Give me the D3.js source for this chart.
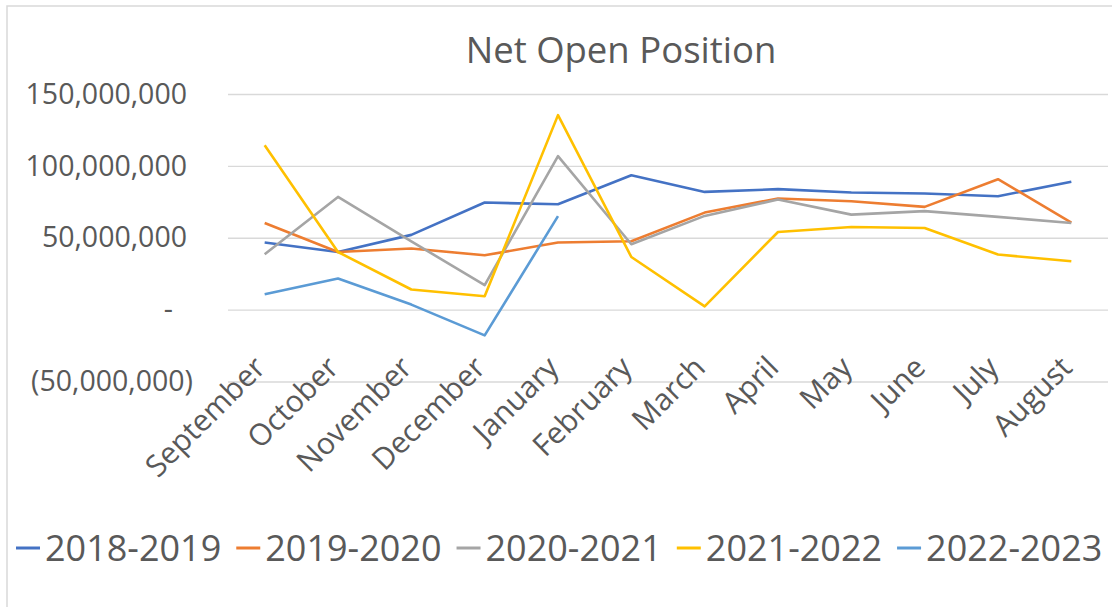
<!doctype html>
<html lang="en">
<head>
  <meta charset="UTF-8">
  <title>Net Open Position</title>
<style>
  body{ margin: 0; background: #fff; }
  text{ font-family: "Open Sans", sans-serif; fill: #595959; }
  .grid line{ stroke: #d9d9d9; stroke-width: 1.3px; }
  .grid path{ display: none; }
  .series{ fill: none; stroke-width: 2.6px; stroke-linejoin: round; }
</style>
</head>
<body>
<script src="https://cdn.jsdelivr.net/npm/d3@7"></script>
<script>
var months = ["September", "October", "November", "December", "January", "February",
              "March", "April", "May", "June", "July", "August"];

var seasons = ["2018-2019", "2019-2020", "2020-2021", "2021-2022", "2022-2023"];
var colors = ["#4472C4", "#ED7D31", "#A5A5A5", "#FFC000", "#5B9BD5"];

var s2018 = [46.7e6, 40.1e6, 52.0e6, 74.5e6, 73.3e6, 93.5e6, 81.9e6, 83.8e6, 81.5e6, 80.8e6, 78.9e6, 88.9e6];
var s2019 = [60.3e6, 40.1e6, 42.5e6, 37.8e6, 46.7e6, 47.6e6, 67.5e6, 77.3e6, 75.4e6, 71.5e6, 90.7e6, 60.6e6];
var s2020 = [38.5e6, 78.4e6, 47.5e6, 17.0e6, 106.8e6, 45.5e6, 65.2e6, 76.6e6, 66.1e6, 68.5e6, 64.5e6, 60.3e6];
var s2021 = [114.4e6, 40.1e6, 14.0e6, 9.3e6, 135.3e6, 36.6e6, 2.3e6, 54.0e6, 57.5e6, 56.8e6, 38.3e6, 33.6e6];
var s2022 = [10.7e6, 21.6e6, 3.5e6, -17.9e6, 65.0e6];

var yTicks = [-50e6, 0, 50e6, 100e6, 150e6];

var series = [s2018, s2019, s2020, s2021, s2022];

var W = 1112, H = 607;
var plot = {left: 228, right: 1108, top: 94, bottom: 381.5};

var svg = d3.select("body").append("svg")
    .attr("width", W)
    .attr("height", H);

// chart frame (only top/left edge visible in the crop)
svg.append("rect")
    .attr("x", 7).attr("y", 6)
    .attr("width", 1300).attr("height", 700)
    .attr("fill", "#fff")
    .attr("stroke", "#d9d9d9")
    .attr("stroke-width", 1.5);

var x = d3.scalePoint()
    .domain(months)
    .range([plot.left, plot.right])
    .padding(0.5);

var y = d3.scaleLinear()
    .domain([-50e6, 150e6])
    .range([plot.bottom, plot.top]);

var fmt = d3.format(",");

// gridlines + y labels
var yAxis = d3.axisLeft(y)
    .tickValues(yTicks)
    .tickSizeInner(-(plot.right - plot.left))
    .tickSizeOuter(0)
    .tickFormat(function(d){
      if (d === 0) return "-";
      if (d < 0) return "(" + fmt(-d) + ")";
      return fmt(d);
    });

var gy = svg.append("g")
    .attr("class", "grid")
    .attr("transform", "translate(" + plot.left + ",0)")
    .call(yAxis);

gy.selectAll("text")
    .attr("font-size", 28.5)
    .attr("font-family", "'Open Sans', sans-serif")
    .attr("fill", "#595959")
    .attr("x", function(d){ return d === 0 ? -55 : (d < 0 ? -35 : -41); });

// month labels
svg.append("g")
  .selectAll("text")
  .data(months)
  .enter().append("text")
    .attr("text-anchor", "end")
    .attr("font-size", 30)
    .attr("dy", "0.35em")
    .attr("transform", function(d){
      return "translate(" + (x(d) - 5) + ",362) rotate(-45)";
    })
    .text(function(d){ return d; });

// lines
var line = d3.line()
    .x(function(d, i){ return x(months[i]); })
    .y(function(d){ return y(d); });

svg.selectAll(".series")
    .data(series)
  .enter().append("path")
    .attr("class", "series")
    .attr("stroke", function(d, i){ return colors[i]; })
    .attr("d", line);

// title
svg.append("text")
    .attr("x", 621)
    .attr("y", 63)
    .attr("text-anchor", "middle")
    .attr("font-size", 36.5)
    .text("Net Open Position");

// legend
var lx = 16;
seasons.forEach(function(s, i){
  svg.append("line")
      .attr("x1", lx).attr("x2", lx + 24)
      .attr("y1", 548).attr("y2", 548)
      .attr("stroke", colors[i])
      .attr("stroke-width", 3);
  var t = svg.append("text")
      .attr("x", lx + 29)
      .attr("y", 561)
      .attr("font-size", 36)
      .text(s);
  lx += 29 + t.node().getComputedTextLength() + 15;
});
</script>
</body>
</html>
